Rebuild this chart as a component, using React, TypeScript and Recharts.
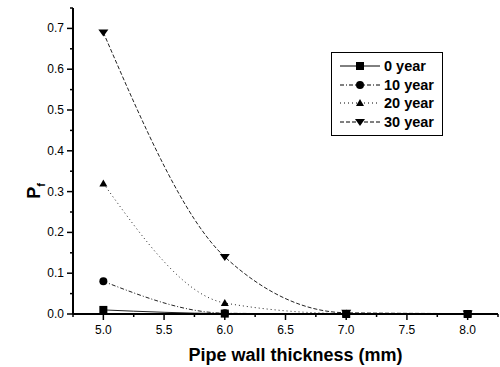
import { LineChart, Line, XAxis, YAxis } from 'recharts'

const thickness = [5.0, 6.0, 7.0, 8.0]
const year0 = [0.01, 0.001, 0.0, 0.0]
const year10 = [0.08, 0.002, 0.0, 0.0]
const year20 = [0.32, 0.027, 0.001, 0.0]
const year30 = [0.69, 0.14, 0.003, 0.001]

const xTicks = [4.75, 5.0, 5.25, 5.5, 5.75, 6.0, 6.25, 6.5, 6.75, 7.0, 7.25, 7.5, 7.75, 8.0, 8.25]
const yTicks = [0, 0.05, 0.1, 0.15, 0.2, 0.25, 0.3, 0.35, 0.4, 0.45, 0.5, 0.55, 0.6, 0.65, 0.7, 0.75]

const data = thickness.map((t, i) => ({
  t,
  y0: year0[i],
  y10: year10[i],
  y20: year20[i],
  y30: year30[i],
}))

type Shape = 'square' | 'circle' | 'triUp' | 'triDown'

const series: { key: string; name: string; dash?: string; shape: Shape }[] = [
  { key: 'y0', name: '0 year', shape: 'square' },
  { key: 'y10', name: '10 year', dash: '4 2 1 2', shape: 'circle' },
  { key: 'y20', name: '20 year', dash: '1 3', shape: 'triUp' },
  { key: 'y30', name: '30 year', dash: '4 2', shape: 'triDown' },
]

const FONT = '"Liberation Sans", Arial, sans-serif'

function Marker({ cx, cy, shape }: { cx: number; cy: number; shape: Shape }) {
  if (cx == null || cy == null) return null
  const s = 4
  if (shape === 'square') return <rect x={cx - s} y={cy - s} width={s * 2} height={s * 2} fill="#000" />
  if (shape === 'circle') return <circle cx={cx} cy={cy} r={s} fill="#000" />
  if (shape === 'triUp')
    return <path d={`M${cx},${cy - s} L${cx + s},${cy + s - 1} L${cx - s},${cy + s - 1} Z`} fill="#000" />
  return <path d={`M${cx - s - 1},${cy - s + 1} L${cx + s + 1},${cy - s + 1} L${cx},${cy + s} Z`} fill="#000" />
}

function YTick(props: any) {
  const { x, y, payload } = props
  const major = Math.round(payload.value * 100) % 10 === 0
  return (
    <g>
      <line x1={x} x2={x - (major ? 6 : 3)} y1={y} y2={y} stroke="#000" strokeWidth={1.5} />
      {major && (
        <text x={x - 9} y={y} dy={4} textAnchor="end" fontSize={12} fontFamily={FONT} fill="#000">
          {payload.value.toFixed(1)}
        </text>
      )}
    </g>
  )
}

function XTick(props: any) {
  const { x, y, payload } = props
  const major = Math.round(payload.value * 100) % 50 === 0
  return (
    <g>
      <line x1={x} x2={x} y1={y} y2={y + (major ? 6 : 3)} stroke="#000" strokeWidth={1.5} />
      {major && (
        <text x={x} y={y} dy={20} textAnchor="middle" fontSize={12} fontFamily={FONT} fill="#000">
          {payload.value.toFixed(1)}
        </text>
      )}
    </g>
  )
}

function LegendBox() {
  return (
    <div
      style={{
        position: 'absolute',
        left: 331,
        top: 52,
        border: '1.5px solid #000',
        width: 110,
        padding: '4px 0 4px 0',
        background: '#fff',
        fontFamily: FONT,
      }}
    >
      {series.map((s) => (
        <div key={s.key} style={{ display: 'flex', alignItems: 'center', height: 18.5 }}>
          <svg width={52} height={14} style={{ marginLeft: 6 }}>
            <line x1={2} x2={42} y1={7} y2={7} stroke="#000" strokeWidth={1} strokeDasharray={s.dash} />
            <Marker cx={22} cy={7} shape={s.shape} />
          </svg>
          <span style={{ fontSize: 14.5, fontWeight: 'bold', marginLeft: -6 }}>{s.name}</span>
        </div>
      ))}
    </div>
  )
}

function YLabel(props: any) {
  const { viewBox } = props
  const cx = 40
  const cy = viewBox ? viewBox.y + viewBox.height / 2 + 30 : 185
  return (
    <text
      x={cx}
      y={cy}
      transform={`rotate(-90 ${cx} ${cy})`}
      textAnchor="middle"
      fontSize={18}
      fontWeight="bold"
      fontFamily={FONT}
      fill="#000"
    >
      P<tspan fontSize={11} dy={5}>f</tspan>
    </text>
  )
}

export default function App() {
  return (
    <div style={{ position: 'absolute', left: 0, top: 0, width: 500, height: 367, background: '#fff' }}>
      <LineChart width={500} height={367} data={data} margin={{ top: 8, right: 2, bottom: 0, left: 28 }}>
        <XAxis
          dataKey="t"
          type="number"
          domain={[4.75, 8.25]}
          ticks={xTicks}
          interval={0}
          height={53}
          tickSize={0}
          tickMargin={0}
          tick={<XTick />}
          axisLine={{ stroke: '#000', strokeWidth: 2 }}
          tickLine={false}
          label={{
            value: 'Pipe wall thickness (mm)',
            position: 'insideBottom',
            offset: 6,
            fontSize: 18,
            fontWeight: 'bold',
            fontFamily: FONT,
            fill: '#000',
            dx: 10,
          }}
        />
        <YAxis
          type="number"
          domain={[0, 0.75]}
          ticks={yTicks}
          interval={0}
          width={45}
          tickSize={0}
          tickMargin={0}
          tick={<YTick />}
          axisLine={{ stroke: '#000', strokeWidth: 2 }}
          tickLine={false}
          label={<YLabel />}
        />
        {series.map((s) => (
          <Line
            key={s.key}
            type="monotone"
            dataKey={s.key}
            name={s.name}
            stroke="#222"
            strokeWidth={1}
            strokeDasharray={s.dash}
            dot={(p: any) => <Marker key={`${s.key}-${p.index}`} cx={p.cx} cy={p.cy} shape={s.shape} />}
            isAnimationActive={false}
          />
        ))}
      </LineChart>
      <LegendBox />
    </div>
  )
}
